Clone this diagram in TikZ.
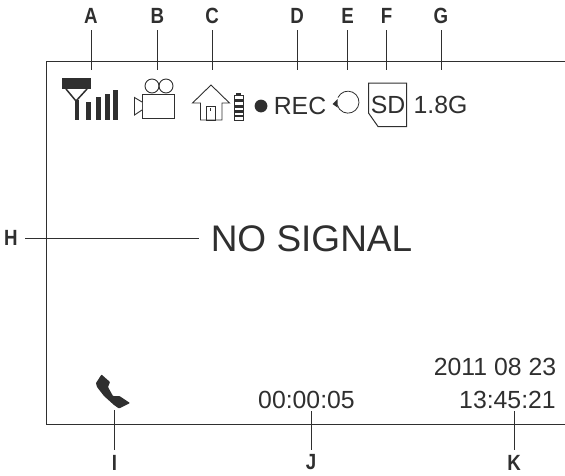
\documentclass[tikz,border=0pt]{standalone}
\usepackage{fontspec}
\setmainfont{Liberation Sans}
\newfontfamily\lblfont[FakeStretch=0.85]{Liberation Sans}
\definecolor{ink}{HTML}{2F2F2F}
\tikzset{
  lbl/.style={font=\lblfont\bfseries\fontsize{22}{22}\selectfont,text=ink,inner sep=0pt,anchor=center},
  lead/.style={draw=ink,line width=0.9pt},
  frameline/.style={draw=ink,line width=0.8pt},
  ico/.style={draw=ink,line width=0.9pt},
  tag/.style={text=ink,inner sep=0pt,anchor=center},
  small/.style={tag,font=\fontsize{24.8}{24.8}\selectfont},
  big/.style={tag,font=\fontsize{37}{37}\selectfont},
}
\begin{document}
\begin{tikzpicture}[x=1pt,y=-1pt]
\useasboundingbox (0,0) rectangle (565,475);
% frame
\coordinate (ftl) at (46,61);
\coordinate (ftr) at (565,61);
\coordinate (fbl) at (46,424);
\coordinate (fbr) at (565,424);
\draw[frameline] (ftr) -- (ftl) -- (fbl) -- (fbr);
% top labels and leaders
\foreach \n/\t/\x/\e in {A/A/91/70,B/B/157.5/70,C/C/212/70,D/D/297/70,E/E/347.5/70,F/F/386.5/70,G/G/441/70}{
  \node[lbl] (l\n) at (\x,15.5) {\t};
  \coordinate (e\n) at (\x,\e);
  \draw[lead] (\x,30) -- (e\n);
}
% signal icon
\fill[ink] (62,78) rectangle (91,89);
\draw[ico,line width=1.5pt] (66,89) -- (76,101) -- (87,89);
\fill[ink] (75,100) rectangle (79,120);
\fill[ink] (86,102) rectangle (91,119.5);
\fill[ink] (96,97) rectangle (101,119.5);
\fill[ink] (105,94) rectangle (110,119.5);
\fill[ink] (113,89.5) rectangle (118,119.5);
% camera icon
\draw[ico] (152,86) circle (7);
\draw[ico] (166,86) circle (7);
\draw[ico] (142,94.5) rectangle (174,118);
\draw[ico,fill=white] (142,102) -- (134.5,97.5) -- (134.5,115) -- (142,110);
% house icon
\draw[ico,line join=miter] (192.5,103) -- (211,85) -- (229.5,103) -- (222,103) -- (222,120) -- (200.5,120) -- (200.5,103) -- cycle;
\draw[ico,line width=0.7pt] (206,106) rectangle (215,120);
\draw[ink,line width=0.6pt] (210,108) -- (210,111);
% battery
\draw[ico,line width=0.7pt] (234,95) rectangle (243,120);
\fill[ink] (236,92.5) rectangle (241,95);
\foreach \yy in {99,105,110,114.5}{\fill[ink] (234,\yy) rectangle (243,\yy+2.8);}
% REC
\fill[ink] (261,106) circle (6.4);
\node[small] (rec) at (300,105.5) {REC};
% loop icon
\draw[ico,line width=0.8pt] (338,97.5) arc[start angle=-155,end angle=165,radius=11];
\fill[ink] (332.5,104) -- (337.5,99) -- (337.5,107.5) -- cycle;
% SD
\draw[ico,line width=1pt] (368.5,83) -- (406.5,83) -- (406.5,126.5) -- (378,126.5) -- (368.5,113) -- cycle;
\node[small] (sd) at (388,105) {SD};
\node[small] (cap) at (440.5,105) {1.8G};
% centre
\node[big] (sig) at (311.5,238.5) {NO SIGNAL};
\node[lbl] (lH) at (11,238) {H};
\coordinate (hs) at (25,238);
\coordinate (he) at (199,238);
\draw[lead] (hs) -- (he);
% phone
\fill[ink,rounded corners=0.6pt] (101.5,374.5) -- (96,383) -- (97,387) -- (104,396) -- (114,405) -- (119,408.5) -- (130,403) -- (119.5,396) -- (113,396) -- (108,387) -- (110,382) -- cycle;
% bottom texts
\node[small] (time) at (306.5,399.5) {00:00:05};
\node[small] (date) at (495,367) {2011 08 23};
\node[small] (clock) at (507.5,399.5) {13:45:21};
% bottom labels
\foreach \n/\t/\x/\s in {I/I/114.5/410,J/J/311/411,K/K/514/411}{
  \node[lbl] (l\n) at (\x,462.5) {\t};
  \coordinate (s\n) at (\x,\s);
  \draw[lead] (s\n) -- (\x,450);
}
\end{tikzpicture}
\end{document}
